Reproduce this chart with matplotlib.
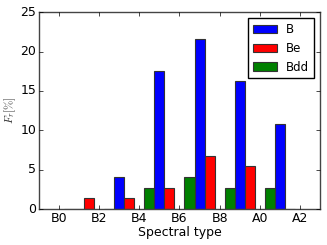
import matplotlib
matplotlib.use("Agg")
import matplotlib.pyplot as plt
import numpy as np

plt.style.use("classic")

# bin centres (B1, B3, B5, B7, B9, A1), B0 = 0 ... A0 = 10
centres = [1, 3, 5, 7, 9, 11]
B = [0.0, 4.05, 17.57, 21.62, 16.22, 10.81]
Be = [1.35, 1.35, 2.70, 6.76, 5.41, 0.0]
Bdd = [0.0, 0.0, 2.70, 4.05, 2.70, 2.70]
tick_pos = [0, 2, 4, 6, 8, 10, 12]
tick_labels = ["B0", "B2", "B4", "B6", "B8", "A0", "A2"]

w = 0.5
x = np.array(centres)

fig = plt.figure(figsize=(3.27, 2.45), dpi=100)
ax = fig.add_axes([0.1193, 0.1469, 0.859, 0.803])

ax.bar(x, B, w, align="center", color="b", edgecolor="#333333", linewidth=0.8, label="B")
ax.bar(x + w, Be, w, align="center", color="r", edgecolor="#333333", linewidth=0.8, label="Be")
ax.bar(x - w, Bdd, w, align="center", color="g", edgecolor="#333333", linewidth=0.8, label="Bdd")

ax.set_xlim(-1, 13)
ax.set_ylim(0, 25)
ax.set_xticks(tick_pos)
ax.set_xticklabels(tick_labels)
ax.tick_params(labelsize=9, pad=2, length=3)
for s in ax.spines.values():
    s.set_color("#444444")
ax.set_xlabel("Spectral type", fontsize=9, labelpad=1)
ax.set_ylabel(r"$F_r[\%]$", fontsize=8, labelpad=2, color="#333333")
ax.legend(loc="upper right", fontsize=8.5, handlelength=2.0, borderaxespad=0.5)

fig.savefig("out.png", dpi=100)
